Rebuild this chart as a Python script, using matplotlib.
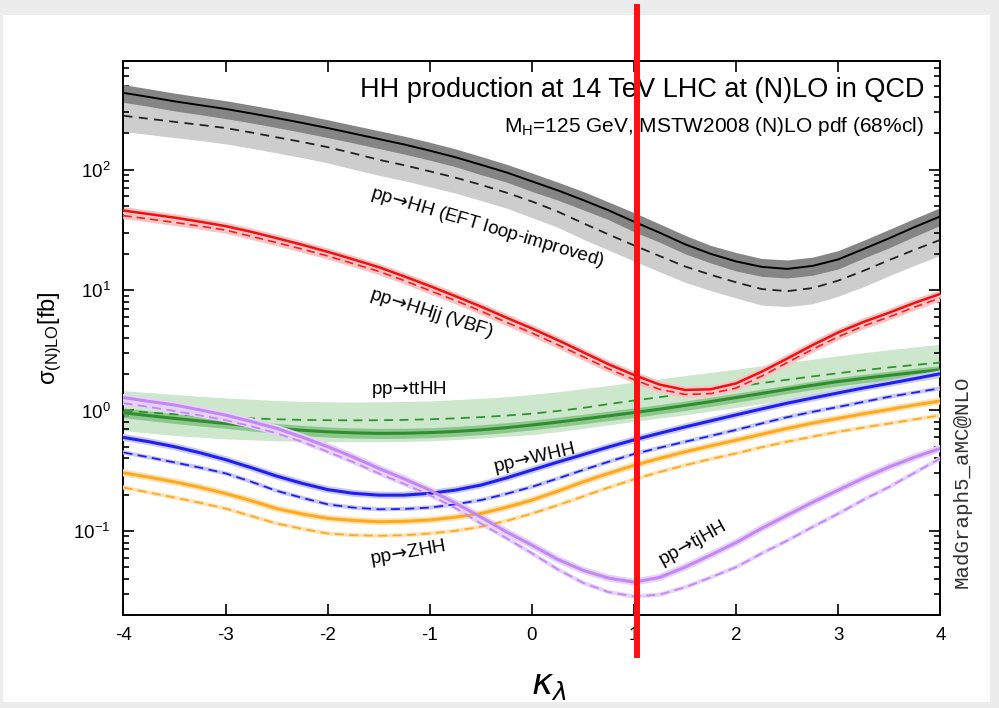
import numpy as np
import matplotlib
matplotlib.use("Agg")
import matplotlib.pyplot as plt
from matplotlib.patches import Rectangle
from matplotlib.ticker import LogLocator, NullFormatter, FixedLocator

plt.rcParams['font.family'] = ['Liberation Sans', 'DejaVu Sans']
plt.rcParams['mathtext.fontset'] = 'custom'
plt.rcParams['mathtext.rm'] = 'Liberation Sans'
plt.rcParams['mathtext.it'] = 'Liberation Sans:italic'

# kappa_lambda grid
kappa = [-4, -3.75, -3.5, -3.25, -3, -2.75, -2.5, -2.25, -2, -1.75, -1.5, -1.25, -1, -0.75, -0.5, -0.25,
         0, 0.25, 0.5, 0.75, 1, 1.25, 1.5, 1.75, 2, 2.25, 2.5, 2.75, 3, 3.25, 3.5, 3.75, 4]

# pp -> HH (gluon fusion), fb
hh_nlo = [435, 402, 370, 344, 320, 294, 269, 245, 222, 200, 180, 162, 144, 127, 110, 95,
          80, 67.5, 56, 46, 37, 30, 24, 20, 17.3, 15.6, 15.0, 15.9, 18, 22, 27, 33.5, 41]
hh_nlo_up = [509, 470, 433, 402, 375, 344, 315, 287, 260, 234, 211, 190, 169, 149, 129, 111,
             94, 79, 66, 54, 44, 35.5, 28.5, 23.5, 20.5, 18.3, 17.8, 18.8, 21.3, 26, 32, 39.5, 48.5]
hh_nlo_dn = [363, 336, 308, 287, 266, 245, 224, 204, 185, 167, 150, 135, 120, 106, 91, 79,
             66, 56, 46.5, 38.5, 30.5, 25, 20, 16.8, 14.4, 13.0, 12.6, 13.3, 15, 18.5, 22.5, 28, 34.5]
hh_lo = [281, 265, 250, 236, 222, 204, 186, 170, 154, 137, 121, 109, 97, 86, 75, 64.5,
         54.5, 45, 36, 29, 23.5, 19.2, 15.7, 13.4, 11.6, 10.2, 9.8, 10.4, 12.0, 14.5, 17.8, 21.7, 26.2]
hh_lo_up = [380, 358, 338, 319, 300, 275, 251, 230, 208, 185, 163, 147, 131, 116, 101, 87,
            73.5, 61, 48.6, 39, 31.7, 26, 21.2, 18.1, 15.7, 13.8, 13.2, 14, 16.2, 19.6, 24, 29.3, 35.4]
hh_lo_dn = [208, 196, 185, 175, 164, 151, 138, 126, 114, 101, 90, 81, 72, 64, 55.5, 48,
            40, 33.3, 26.5, 21.5, 17.4, 14.2, 11.6, 9.9, 8.6, 7.5, 7.3, 7.7, 8.9, 10.7, 13.2, 16.1, 19.4]

# pp -> HHjj (VBF)
vbf_nlo = [45.8, 42.8, 40, 37, 34, 30.5, 27, 23.8, 20.8, 18, 15.5, 13, 10.8, 8.9, 7.3, 5.9,
           4.8, 3.85, 3.05, 2.42, 1.97, 1.64, 1.48, 1.50, 1.68, 2.1, 2.7, 3.5, 4.45, 5.45, 6.5, 7.85, 9.3]
vbf_lo = [41.5, 39, 36.5, 34, 31.5, 28, 24.8, 21.9, 19.2, 16.6, 14.3, 12, 9.9, 8.2, 6.7, 5.4,
          4.4, 3.52, 2.8, 2.22, 1.80, 1.50, 1.36, 1.38, 1.54, 1.93, 2.5, 3.23, 4.1, 5.05, 6.0, 7.25, 8.6]

# pp -> ttHH
tthh_nlo = [0.957, 0.905, 0.86, 0.818, 0.78, 0.743, 0.71, 0.685, 0.665, 0.652, 0.645, 0.647, 0.655, 0.669, 0.69, 0.72,
            0.757, 0.8, 0.85, 0.902, 0.96, 1.025, 1.1, 1.185, 1.28, 1.385, 1.5, 1.62, 1.74, 1.85, 1.96, 2.07, 2.18]
tthh_nlo_up = [1.05, 0.99, 0.94, 0.895, 0.85, 0.813, 0.78, 0.752, 0.73, 0.717, 0.71, 0.712, 0.72, 0.736, 0.76, 0.792,
               0.83, 0.877, 0.93, 0.988, 1.05, 1.12, 1.2, 1.29, 1.39, 1.5, 1.62, 1.75, 1.88, 2.0, 2.12, 2.24, 2.36]
tthh_nlo_dn = [0.87, 0.823, 0.78, 0.743, 0.71, 0.676, 0.645, 0.62, 0.60, 0.59, 0.585, 0.587, 0.595, 0.61, 0.63, 0.657,
               0.69, 0.73, 0.775, 0.823, 0.875, 0.935, 1.0, 1.08, 1.17, 1.27, 1.38, 1.49, 1.6, 1.7, 1.8, 1.9, 2.0]
tthh_lo = [1.0, 0.963, 0.93, 0.903, 0.88, 0.86, 0.845, 0.835, 0.83, 0.828, 0.83, 0.835, 0.845, 0.86, 0.88, 0.907,
           0.94, 0.99, 1.05, 1.13, 1.21, 1.29, 1.38, 1.475, 1.58, 1.69, 1.8, 1.92, 2.04, 2.16, 2.28, 2.39, 2.5]
tthh_lo_up = [1.46, 1.41, 1.36, 1.31, 1.27, 1.24, 1.21, 1.19, 1.18, 1.175, 1.18, 1.19, 1.2, 1.23, 1.26, 1.3,
              1.36, 1.43, 1.52, 1.61, 1.72, 1.83, 1.95, 2.07, 2.2, 2.35, 2.5, 2.67, 2.85, 3.02, 3.2, 3.37, 3.55]
tthh_lo_dn = [0.68, 0.65, 0.62, 0.60, 0.58, 0.57, 0.56, 0.555, 0.55, 0.55, 0.55, 0.553, 0.56, 0.573, 0.59, 0.61,
              0.63, 0.665, 0.71, 0.76, 0.81, 0.865, 0.92, 0.99, 1.06, 1.14, 1.22, 1.31, 1.4, 1.51, 1.62, 1.74, 1.86]

# pp -> WHH
whh_nlo = [0.597, 0.55, 0.50, 0.445, 0.39, 0.335, 0.285, 0.248, 0.22, 0.205, 0.198, 0.198, 0.205, 0.218, 0.24, 0.275,
           0.32, 0.372, 0.43, 0.497, 0.57, 0.647, 0.73, 0.82, 0.92, 1.03, 1.15, 1.27, 1.4, 1.54, 1.68, 1.84, 2.02]
whh_lo = [0.448, 0.408, 0.37, 0.335, 0.30, 0.256, 0.215, 0.188, 0.166, 0.156, 0.151, 0.152, 0.156, 0.166, 0.18, 0.203,
          0.232, 0.272, 0.32, 0.375, 0.435, 0.49, 0.55, 0.615, 0.69, 0.78, 0.88, 0.975, 1.07, 1.18, 1.3, 1.41, 1.53]

# pp -> ZHH
zhh_nlo = [0.303, 0.279, 0.255, 0.23, 0.204, 0.178, 0.153, 0.138, 0.127, 0.122, 0.119, 0.12, 0.123, 0.13, 0.139, 0.157,
           0.18, 0.213, 0.255, 0.3, 0.35, 0.4, 0.454, 0.508, 0.567, 0.635, 0.71, 0.785, 0.86, 0.94, 1.02, 1.11, 1.2]
zhh_lo = [0.229, 0.208, 0.189, 0.171, 0.153, 0.133, 0.115, 0.104, 0.095, 0.092, 0.091, 0.092, 0.095, 0.1, 0.108, 0.121,
          0.139, 0.163, 0.193, 0.229, 0.268, 0.308, 0.351, 0.395, 0.44, 0.495, 0.55, 0.607, 0.665, 0.722, 0.78, 0.845, 0.91]

# pp -> tjHH
tjhh_nlo = [1.28, 1.19, 1.11, 1.01, 0.915, 0.81, 0.71, 0.6, 0.50, 0.41, 0.33, 0.27, 0.218, 0.17, 0.13, 0.098,
            0.076, 0.058, 0.047, 0.0405, 0.0375, 0.041, 0.05, 0.063, 0.08, 0.105, 0.135, 0.173, 0.218, 0.275, 0.34, 0.41, 0.484]
tjhh_lo = [1.15, 1.07, 0.99, 0.91, 0.83, 0.74, 0.645, 0.55, 0.454, 0.372, 0.30, 0.245, 0.198, 0.155, 0.115, 0.087,
           0.065, 0.048, 0.037, 0.031, 0.0285, 0.0295, 0.034, 0.041, 0.05, 0.065, 0.083, 0.108, 0.139, 0.182, 0.232, 0.305, 0.40]

fig = plt.figure(figsize=(9.99, 7.08), dpi=100, facecolor='#ececec')
fig.add_artist(Rectangle((3 / 999, 6 / 708), 987 / 999, 687 / 708,
                         transform=fig.transFigure, facecolor='white',
                         edgecolor='none', zorder=-10))
ax = fig.add_axes([0.1236, 0.1314, 0.8178, 0.7824])

# gluon fusion bands
ax.fill_between(kappa, hh_lo_dn, hh_lo_up, color='#cdcdcd', lw=0, zorder=1)
ax.fill_between(kappa, hh_nlo_dn, hh_nlo_up, color='#858585', lw=0, zorder=2)
ax.plot(kappa, hh_lo, color='#222222', lw=1.3, ls=(0, (5, 3.5)), zorder=3)
ax.plot(kappa, hh_nlo, color='black', lw=1.4, zorder=3)

# ttHH bands
ax.fill_between(kappa, tthh_lo_dn, tthh_lo_up, color='#cde7cd', lw=0, zorder=1)
ax.fill_between(kappa, tthh_nlo_dn, tthh_nlo_up, color='#7fbf7f', alpha=0.8, lw=0, zorder=2)
ax.plot(kappa, tthh_lo, color='#2f942f', lw=1.3, ls=(0, (5, 3.5)), zorder=3)
ax.plot(kappa, tthh_nlo, color='#2f8f2f', lw=2.2, zorder=3)

# VBF with pink band
ax.fill_between(kappa, vbf_lo, vbf_nlo, color='#f9c4c4', lw=0, zorder=4)
for ys in (vbf_lo, vbf_nlo):
    ax.plot(kappa, ys, color='#f9c4c4', lw=5, zorder=4, solid_capstyle='butt')
ax.plot(kappa, vbf_lo, color='#ee2222', lw=1.2, ls=(0, (5, 3)), zorder=5)
ax.plot(kappa, vbf_nlo, color='#ee1111', lw=1.8, zorder=5)

# WHH, ZHH, tjHH
for nlo, lo, col, halo in [(whh_nlo, whh_lo, '#1f1fee', '#c8c8f8'),
                           (zhh_nlo, zhh_lo, '#ffaa1e', '#fde3b8'),
                           (tjhh_nlo, tjhh_lo, '#c388f2', '#e6d2fa')]:
    ax.plot(kappa, nlo, color=halo, lw=5, zorder=4)
    ax.plot(kappa, lo, color=halo, lw=3, zorder=4)
    ax.plot(kappa, lo, color=col, lw=1.3, ls=(0, (5, 3)), zorder=5)
    ax.plot(kappa, nlo, color=col, lw=2.2, zorder=5)

ax.set_yscale('log')
ax.set_xlim(-4, 4)
ax.set_ylim(0.02, 800)
ax.xaxis.set_major_locator(FixedLocator([-4, -3, -2, -1, 0, 1, 2, 3, 4]))
ax.set_xticklabels(['-4', '-3', '-2', '-1', '0', '1', '2', '3', '4'])
ax.yaxis.set_major_locator(FixedLocator([0.1, 1, 10, 100]))
ax.set_yticklabels(['$10^{-1}$', '$10^{0}$', '$10^{1}$', '$10^{2}$'])
ax.yaxis.set_minor_locator(LogLocator(base=10, subs=np.arange(2, 10), numticks=20))
ax.yaxis.set_minor_formatter(NullFormatter())
ax.tick_params(which='both', direction='in', top=True, right=True, width=1.2, labelsize=13.5, colors='black')
ax.tick_params(which='major', length=8, pad=9)
ax.tick_params(which='minor', length=4.5)
for s in ax.spines.values():
    s.set_linewidth(1.4)

# curve labels
arrow = r'$\!\rightarrow\!$'
lab = dict(ha='center', va='center', fontsize=13.5, zorder=6, rotation_mode='anchor',
           math_fontfamily='dejavusans')
ax.text(-0.44, 32.9, 'pp' + arrow + 'HH (EFT loop-improved)', rotation=-16.5, **lab)
ax.text(-0.99, 6.46, 'pp' + arrow + 'HHjj (VBF)', rotation=-17.5, **lab)
ax.text(-1.21, 1.48, 'pp' + arrow + 'ttHH', **lab)
ax.text(0.02, 0.402, 'pp' + arrow + 'WHH', rotation=13, **lab)
ax.text(-1.21, 0.0651, 'pp' + arrow + 'ZHH', rotation=10, **lab)
ax.text(1.57, 0.0788, 'pp' + arrow + 'tjHH', rotation=29, **lab)

ax.text(0.980, 0.948, 'HH production at 14 TeV LHC at (N)LO in QCD', transform=ax.transAxes,
        ha='right', va='center', fontsize=19.5)
ax.text(0.980, 0.881, r'M$_\mathrm{H}$=125 GeV, MSTW2008 (N)LO pdf (68%cl)', transform=ax.transAxes,
        ha='right', va='center', fontsize=15)

fig.text(962 / 999, 1 - 482 / 708, 'MadGraph5_aMC@NLO', rotation=90, ha='center', va='center',
         fontsize=15, family='Liberation Mono', color='#333333')
fig.text(50 / 999, 1 - 338 / 708, r'σ$_{\mathrm{(N)LO}}$[fb]', rotation=90, ha='center', va='center',
         fontsize=17)
fig.text(549 / 999, 1 - 684 / 708, r'$\kappa_{\lambda}$', ha='center', va='center', fontsize=26,
         math_fontfamily='dejavusans')

# highlighted SM point
ax.axvline(1.03, ymin=-0.072, ymax=1.098, color='#ff1010', lw=4.3, clip_on=False, zorder=10)

fig.savefig('out.png', dpi=100, facecolor=fig.get_facecolor())
